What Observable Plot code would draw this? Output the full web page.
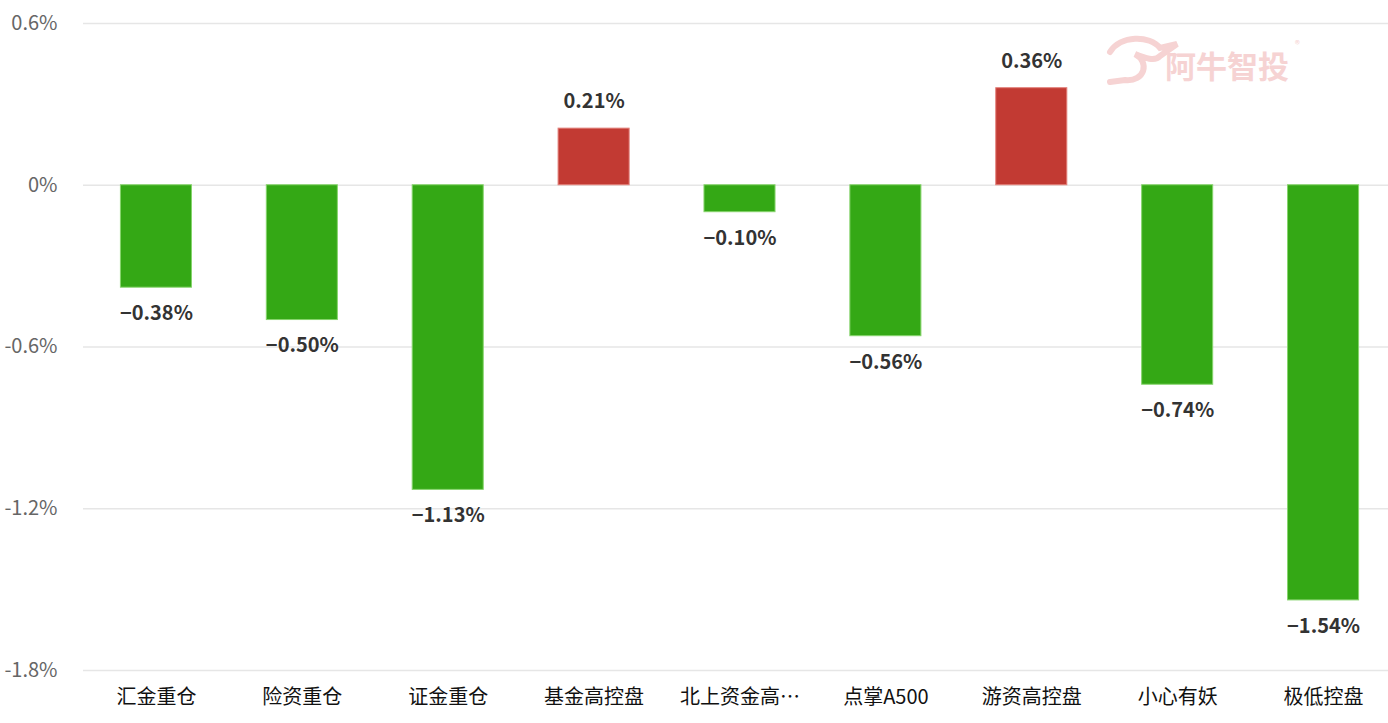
<!DOCTYPE html>
<html><head><meta charset="utf-8">
<script src="https://cdn.jsdelivr.net/npm/d3@7"></script>
<script src="https://cdn.jsdelivr.net/npm/@observablehq/plot@0.6"></script>
<style>
body{margin:0;background:#fff;font-family:"Noto Sans CJK SC","Noto Sans",sans-serif;overflow:hidden;}
#wrap{position:relative;width:1388px;height:723px;overflow:hidden;}
#wm{position:absolute;left:1105px;top:30px;width:210px;height:60px;pointer-events:none;}
</style></head>
<body><div id="wrap"><div id="chart"></div>
<svg id="wm" viewBox="0 0 210 60">
<path d="M5 22 C 15 5, 45 5, 55 18 L 72 14 L 55 26 C 50 32, 40 28, 30 24 C 45 32, 40 52, 20 50 L 5 52" fill="none" stroke="#f6d3d3" stroke-width="6" stroke-linecap="round"/>
<text x="60" y="48" font-size="31" font-weight="bold" fill="#f6d3d3" font-family="Noto Sans CJK SC">阿牛智投</text>
<text x="190" y="18" font-size="10" fill="#f6d3d3">®</text>
</svg></div>
<script>
const categories = ["汇金重仓","险资重仓","证金重仓","基金高控盘","北上资金高…","点掌A500","游资高控盘","小心有妖","极低控盘"];
const values = [-0.38,-0.50,-1.13,0.21,-0.10,-0.56,0.36,-0.74,-1.54];
const yTicks = [0.6,0,-0.6,-1.2,-1.8];
const tickLabels = ["0.6%","0%","-0.6%","-1.2%","-1.8%"];

const data = categories.map((c,i)=>({cat:c, v:values[i]}));
const fmt = v => (v<0?"\u2212":"") + Math.abs(v).toFixed(2) + "%";

const chart = Plot.plot({
  width:1388, height:723,
  marginLeft:83, marginRight:0, marginTop:23, marginBottom:53,
  style:{fontFamily:'"Noto Sans CJK SC","Noto Sans",sans-serif', background:"#fff", overflow:"hidden"},
  x:{domain:categories, range:[83,1396], round:false, paddingInner:0.513, paddingOuter:0.2565, align:0.5, label:null},
  y:{domain:[-1.8,0.6], label:null},
  marks:[
    Plot.ruleY(yTicks,{stroke:"#e6e6e6", strokeWidth:1.5}),
    Plot.barY(data,{x:"cat", y:"v", fill:d=>d.v>=0?"#c23a33":"#34a815", stroke:d=>d.v>=0?"#e27f79":"#86d46c", strokeWidth:1}),
    Plot.text(data.filter(d=>d.v<0),{x:"cat", y:"v", text:d=>fmt(d.v), dy:26, fontSize:20, fontWeight:"bold", fill:"#333"}),
    Plot.text(data.filter(d=>d.v>=0),{x:"cat", y:"v", text:d=>fmt(d.v), dy:-27, fontSize:20, fontWeight:"bold", fill:"#333"}),
    Plot.axisY({ticks:yTicks, tickFormat:(d)=>tickLabels[yTicks.indexOf(d)], tickSize:0, tickPadding:26, fontSize:20, fill:"#666", label:null}),
    Plot.axisX({tickSize:0, tickPadding:19, fontSize:20, fill:"#111", label:null})
  ]
});
document.getElementById("chart").appendChild(chart);
</script></body></html>
